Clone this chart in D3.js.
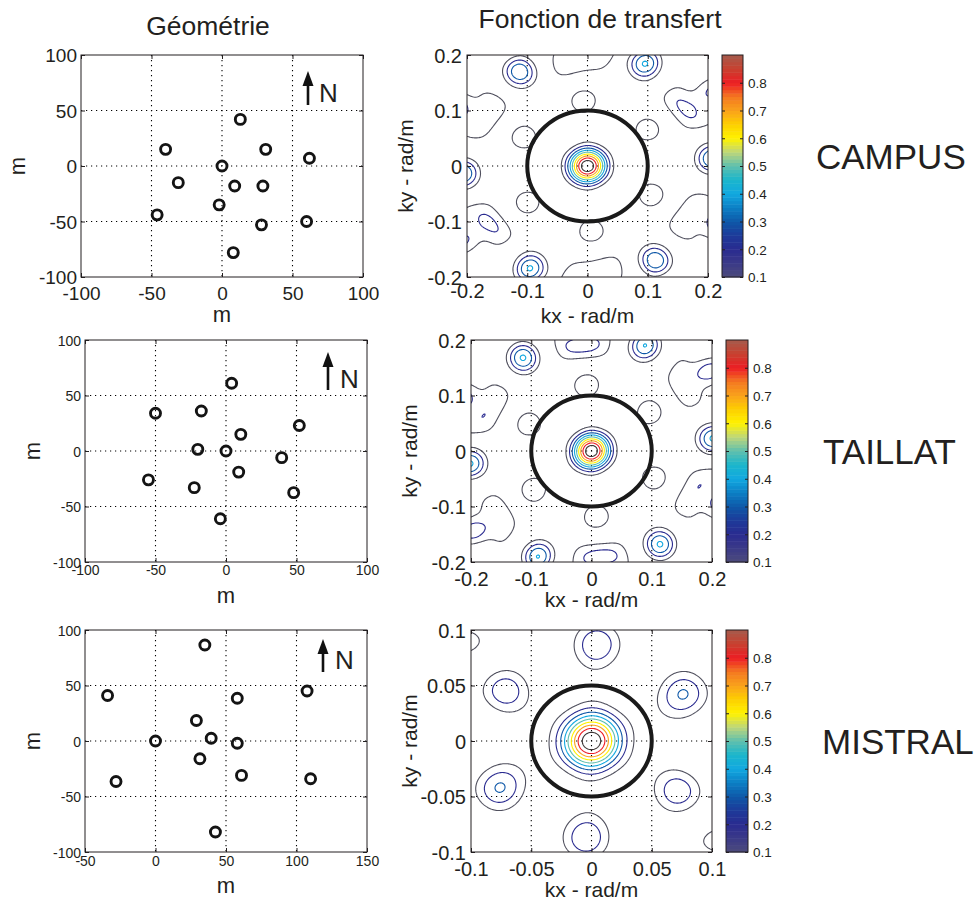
<!DOCTYPE html>
<html><head><meta charset="utf-8">
<script src="https://cdn.jsdelivr.net/npm/d3@7/dist/d3.min.js"></script>
<style>
html,body{margin:0;padding:0;background:#fff;}
svg text{font-family:"Liberation Sans",Arial,Helvetica,sans-serif;fill:#231f20;}
</style></head><body>
<svg id="chart" width="979" height="903"></svg>
<script>
// ---------------- Data ----------------
const stationNames = ["CAMPUS", "TAILLAT", "MISTRAL"];
const campusX  = [13, -40, 31, 62, 0, -31, 9, 29, -2, -46, 28, 60, 8];
const campusY  = [42, 15, 15, 7, 0, -15, -18, -18, -35, -44, -53, -50, -78];
const taillatX = [4, -50, -17.5, 52, 10.5, -20, 0, 39.5, 9, -55, -22.5, 48, -4];
const taillatY = [61, 34, 36, 23, 15, 1.5, 0, -6, -19, -26, -33, -37.5, -61];
const mistralX = [35, -34, 58, 107.5, 29, 39.5, 0, 58, 31.5, 61, 110, -28, 42.5];
const mistralY = [86.5, 41, 38.5, 45, 18.5, 2.5, 0, -2, -16, -31, -34, -36.5, -82];
const geoXTicks = [[-100, -50, 0, 50, 100], [-100, -50, 0, 50, 100], [-50, 0, 50, 100, 150]];
const geoYTicks = [-100, -50, 0, 50, 100];
const kTicks = [[-0.2, -0.1, 0, 0.1, 0.2], [-0.2, -0.1, 0, 0.1, 0.2], [-0.1, -0.05, 0, 0.05, 0.1]];
const kRadius = [0.1, 0.1, 0.05];
const contourLevels = [0.1, 0.2, 0.3, 0.4, 0.5, 0.6, 0.7, 0.8, 0.9];
const colorbarTicks = [0.1, 0.2, 0.3, 0.4, 0.5, 0.6, 0.7, 0.8];
const colorbarRange = [0.1, 0.9];
const titles = ["Géométrie", "Fonction de transfert"];
const geoLabel = "m";
const kxLabel = "kx - rad/m", kyLabel = "ky - rad/m";
const northLabel = "N";

const stationsX = [campusX, taillatX, mistralX];
const stationsY = [campusY, taillatY, mistralY];

// ---------------- Styles / layout ----------------
const cmapStops  = [0.1, 0.15, 0.2, 0.25, 0.3, 0.35, 0.4, 0.45, 0.5, 0.55, 0.6, 0.65, 0.7, 0.75, 0.8, 0.85, 0.9];
const cmapColors = ["#4d4b7b","#3b3a88","#2a2b90","#1d3a99","#0e58a8","#0c7fc4","#12a8e0","#1ab6cc","#5ebfae","#bdd67c","#fff200","#fdd000","#f9a21b","#f47920","#ed1c24","#c8412f","#a65a4c"];
const cmap = d3.scaleLinear().domain(cmapStops).range(cmapColors).clamp(true);
const lineColor = v => v <= 0.1 ? "#50505e" : (v >= 0.9 ? "#3b3434" : cmap(v));
const ink = "#231f20";

const layout = [
 {geo:[81,363,55,277], tf:[467,708,55,277], cb:[722,743], geoFont:19, geoXBase:300, geoXLab:322, geoYLabX:25,
  tfXBase:298, tfXLab:323, tfYLabX:413, label:[816,169], arrowX:308, arrowTop:71, arrowHead:86, arrowBot:105, nX:319, nY:102},
 {geo:[85,367,340,562], tf:[471,712,340,562], cb:[726,748], geoFont:14, geoXBase:575, geoXLab:603, geoYLabX:40,
  tfXBase:586, tfXLab:607, tfYLabX:417, label:[823,464], arrowX:328, arrowTop:352, arrowHead:367, arrowBot:390, nX:340, nY:388},
 {geo:[85,367,630,852], tf:[471,712,630,852], cb:[726,748], geoFont:14, geoXBase:866, geoXLab:893, geoYLabX:40,
  tfXBase:876, tfXLab:897, tfYLabX:417, label:[822,754], arrowX:323, arrowTop:639, arrowHead:654, arrowBot:672, nX:335, nY:669}
];

const svg = d3.select("#chart");
const fmt = d => d === 0 ? "0" : String(d);

// titles
svg.append("text").attr("x", 208).attr("y", 35).attr("text-anchor", "middle").style("font-size", "26.5px").text(titles[0]);
svg.append("text").attr("x", 600).attr("y", 28).attr("text-anchor", "middle").style("font-size", "26.5px").text(titles[1]);

// array transfer function (power, normalised), axes convention of the source figure
function transfer(xs, ys, kx, ky) {
  let re = 0, im = 0;
  for (let j = 0; j < xs.length; j++) {
    const ph = kx * ys[j] + ky * xs[j];
    re += Math.cos(ph); im += Math.sin(ph);
  }
  return (re * re + im * im) / (xs.length * xs.length);
}

function frameAndTicks(g, xs, ys, xt, yt, tickLen) {
  const [x0, x1] = xs.range(), [y1, y0] = ys.range();
  const top = g.append("g").attr("transform", `translate(0,${y0})`)
    .call(d3.axisTop(xs).tickValues(xt).tickFormat("").tickSizeInner(-tickLen).tickSizeOuter(0));
  const right = g.append("g").attr("transform", `translate(${x1},0)`)
    .call(d3.axisRight(ys).tickValues(yt).tickFormat("").tickSizeInner(-tickLen).tickSizeOuter(0));
  [top, right].forEach(a => { a.select(".domain").remove(); a.selectAll("line").attr("stroke", ink); });
  g.append("rect").attr("x", x0).attr("y", y0).attr("width", x1 - x0).attr("height", y1 - y0)
    .attr("fill", "none").attr("stroke", ink).attr("stroke-width", 1);
}

function grid(g, xs, ys, xt, yt) {
  const [x0, x1] = xs.range(), [y1, y0] = ys.range();
  const gg = g.append("g").attr("stroke", "#000").attr("stroke-width", 1.1).attr("stroke-dasharray", "1.2,3.8");
  xt.slice(1, -1).forEach(v => gg.append("line").attr("x1", xs(v)).attr("x2", xs(v)).attr("y1", y0).attr("y2", y1));
  yt.slice(1, -1).forEach(v => gg.append("line").attr("x1", x0).attr("x2", x1).attr("y1", ys(v)).attr("y2", ys(v)));
}

function bottomLeftAxes(g, xs, ys, xt, yt, font, xBase, yPad, tickLen) {
  const [x0] = xs.range(), [y1] = ys.range();
  const bx = g.append("g").attr("transform", `translate(0,${y1})`)
    .call(d3.axisBottom(xs).tickValues(xt).tickFormat(fmt).tickSizeInner(-tickLen).tickSizeOuter(0));
  bx.selectAll("text").attr("y", xBase - y1).attr("dy", null).style("font-size", font + "px").attr("fill", ink);
  const ly = g.append("g").attr("transform", `translate(${x0},0)`)
    .call(d3.axisLeft(ys).tickValues(yt).tickFormat(fmt).tickSizeInner(-tickLen).tickSizeOuter(0).tickPadding(yPad));
  ly.selectAll("text").attr("dy", "0.36em").style("font-size", font + "px").attr("fill", ink);
  [bx, ly].forEach(a => { a.select(".domain").remove(); a.selectAll("line").attr("stroke", ink); a.attr("font-family", null).attr("font-size", null); });
}

layout.forEach((L, r) => {
  const xsData = stationsX[r], ysData = stationsY[r];
  // ---------- geometry ----------
  const gx = geoXTicks[r];
  const xg = d3.scaleLinear().domain([gx[0], gx[gx.length - 1]]).range([L.geo[0], L.geo[1]]);
  const yg = d3.scaleLinear().domain([geoYTicks[0], geoYTicks[geoYTicks.length - 1]]).range([L.geo[3], L.geo[2]]);
  const g1 = svg.append("g");
  grid(g1, xg, yg, gx, geoYTicks);
  g1.append("g").selectAll("circle").data(d3.range(xsData.length)).join("circle")
    .attr("cx", i => xg(xsData[i])).attr("cy", i => yg(ysData[i])).attr("r", 5)
    .attr("fill", "none").attr("stroke", "#141414").attr("stroke-width", 2.9);
  bottomLeftAxes(g1, xg, yg, gx, geoYTicks, L.geoFont, L.geoXBase, 4, 4);
  frameAndTicks(g1, xg, yg, gx, geoYTicks, 4);
  g1.append("text").attr("x", (L.geo[0] + L.geo[1]) / 2).attr("y", L.geoXLab).attr("text-anchor", "middle").style("font-size", "22px").text(geoLabel);
  g1.append("text").attr("transform", `translate(${L.geoYLabX},${(L.geo[2] + L.geo[3]) / 2}) rotate(-90)`).attr("text-anchor", "middle").style("font-size", "22px").text(geoLabel);
  // north arrow
  g1.append("line").attr("x1", L.arrowX).attr("x2", L.arrowX).attr("y1", L.arrowHead - 1).attr("y2", L.arrowBot).attr("stroke", "#111").attr("stroke-width", 2.6);
  g1.append("path").attr("d", d3.line()([[L.arrowX - 5.5, L.arrowHead], [L.arrowX, L.arrowTop], [L.arrowX + 5.5, L.arrowHead]]) + "Z").attr("fill", "#111");
  g1.append("text").attr("x", L.nX).attr("y", L.nY).style("font-size", "26px").text(northLabel);

  // ---------- transfer function ----------
  const kt = kTicks[r];
  const kd = [kt[0], kt[kt.length - 1]];
  const xk = d3.scaleLinear().domain(kd).range([L.tf[0], L.tf[1]]);
  const yk = d3.scaleLinear().domain(kd).range([L.tf[3], L.tf[2]]);
  const g2 = svg.append("g");
  const clipId = "clip" + r;
  svg.append("clipPath").attr("id", clipId).append("rect")
    .attr("x", L.tf[0]).attr("y", L.tf[2]).attr("width", L.tf[1] - L.tf[0]).attr("height", L.tf[3] - L.tf[2]);
  grid(g2, xk, yk, kt, kt);

  const n = 220, pad = 4, m = n + 2 * pad;
  const step = (kd[1] - kd[0]) / (n - 1);
  const kAt = i => kd[0] + (i - pad) * step;
  const values = new Float64Array(m * m);
  for (let j = 0; j < m; j++) {
    const ky = kAt(j);
    for (let i = 0; i < m; i++) values[j * m + i] = transfer(xsData, ysData, kAt(i), ky);
  }
  const contours = d3.contours().size([m, m]).thresholds(contourLevels)(values);
  const proj = d3.geoTransform({ point: function (x, y) { this.stream.point(xk(kAt(x - 0.5)), yk(kAt(y - 0.5))); } });
  const path = d3.geoPath(proj);
  g2.append("g").attr("clip-path", `url(#${clipId})`).selectAll("path").data(contours).join("path")
    .attr("d", path).attr("fill", "none").attr("stroke", d => lineColor(d.value)).attr("stroke-width", 1.1);
  // reference circle
  const rad = kRadius[r];
  g2.append("ellipse").attr("cx", xk(0)).attr("cy", yk(0))
    .attr("rx", xk(rad) - xk(0)).attr("ry", yk(0) - yk(rad))
    .attr("fill", "none").attr("stroke", "#1a1a1a").attr("stroke-width", 4);
  bottomLeftAxes(g2, xk, yk, kt, kt, 20, L.tfXBase, 5, 4);
  frameAndTicks(g2, xk, yk, kt, kt, 4);
  g2.append("text").attr("x", (L.tf[0] + L.tf[1]) / 2).attr("y", L.tfXLab).attr("text-anchor", "middle").style("font-size", "21px").text(kxLabel);
  g2.append("text").attr("transform", `translate(${L.tfYLabX},${(L.tf[2] + L.tf[3]) / 2}) rotate(-90)`).attr("text-anchor", "middle").style("font-size", "21px").text(kyLabel);

  // ---------- colorbar ----------
  const cbY = d3.scaleLinear().domain(colorbarRange).range([L.tf[3], L.tf[2]]);
  const nb = 64, db = (colorbarRange[1] - colorbarRange[0]) / nb;
  const g3 = svg.append("g");
  g3.selectAll("rect.band").data(d3.range(nb)).join("rect").attr("class", "band")
    .attr("x", L.cb[0]).attr("width", L.cb[1] - L.cb[0])
    .attr("y", i => cbY(colorbarRange[0] + (i + 1) * db)).attr("height", i => cbY(colorbarRange[0] + i * db) - cbY(colorbarRange[0] + (i + 1) * db) + 0.5)
    .attr("fill", i => cmap(colorbarRange[0] + (i + 0.5) * db));
  const cbAx = g3.append("g").attr("transform", `translate(${L.cb[1]},0)`)
    .call(d3.axisRight(cbY).tickValues(colorbarTicks).tickFormat(d3.format(".1f")).tickSizeInner(-3).tickSizeOuter(0).tickPadding(5));
  cbAx.select(".domain").remove();
  cbAx.selectAll("line").attr("stroke", ink);
  cbAx.selectAll("text").style("font-size", "13.5px").attr("fill", ink).attr("dy", "0.36em");
  cbAx.attr("font-family", null).attr("font-size", null);
  const cbL = g3.append("g").attr("transform", `translate(${L.cb[0]},0)`)
    .call(d3.axisLeft(cbY).tickValues(colorbarTicks).tickFormat("").tickSizeInner(-3).tickSizeOuter(0));
  cbL.select(".domain").remove(); cbL.selectAll("line").attr("stroke", ink);
  g3.append("rect").attr("x", L.cb[0]).attr("y", L.tf[2]).attr("width", L.cb[1] - L.cb[0]).attr("height", L.tf[3] - L.tf[2])
    .attr("fill", "none").attr("stroke", ink).attr("stroke-width", 1);

  // ---------- row label ----------
  svg.append("text").attr("x", L.label[0]).attr("y", L.label[1]).style("font-size", "35px").text(stationNames[r]);
});
</script>
</body></html>
